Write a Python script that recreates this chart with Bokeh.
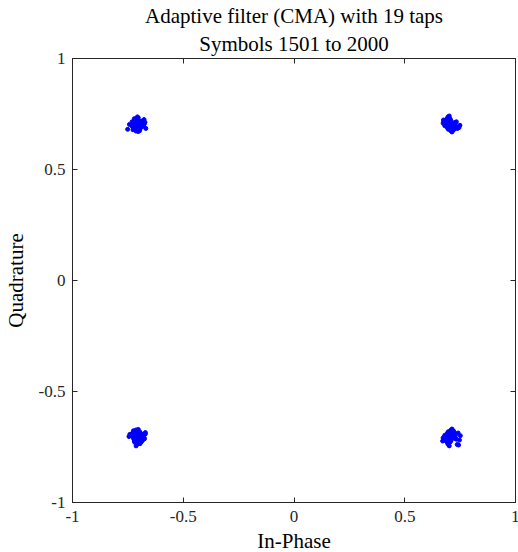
from bokeh.plotting import figure
from bokeh.models import FixedTicker, LinearAxis, Title, Range1d, ColumnDataSource
from bokeh.embed import file_html
from bokeh.resources import INLINE

# Equalized symbols (In-Phase, Quadrature)
tl_i = [-0.707,-0.717,-0.689,-0.699,-0.723,-0.681,-0.711,-0.695,-0.733,-0.673,-0.703,-0.715,-0.687,-0.709,-0.693,
        -0.725,-0.679,-0.701,-0.713,-0.691,-0.719,-0.697,-0.743,-0.669,-0.705,-0.721,-0.685,-0.711,-0.699,-0.729,
        -0.675,-0.707,-0.693,-0.715,-0.683,-0.703,-0.751,-0.713,-0.689,-0.701,-0.727,-0.677,-0.697,-0.709,-0.731]
tl_q = [0.707,0.695,0.717,0.689,0.711,0.701,0.725,0.683,0.699,0.713,0.733,0.679,0.693,0.721,0.705,
        0.687,0.697,0.715,0.673,0.709,0.723,0.691,0.703,0.685,0.699,0.729,0.711,0.681,0.717,0.693,
        0.707,0.737,0.689,0.701,0.719,0.671,0.681,0.713,0.697,0.707,0.679,0.725,0.675,0.731,0.715]

tr_i = [0.707,0.697,0.719,0.689,0.711,0.725,0.681,0.703,0.733,0.693,0.715,0.687,0.709,0.699,0.741,
        0.673,0.721,0.705,0.691,0.727,0.695,0.713,0.749,0.685,0.717,0.701,0.731,0.677,0.707,0.723,
        0.675,0.711,0.697,0.737,0.689,0.719,0.745,0.703,0.693,0.729,0.681,0.715,0.739,0.699,0.709]
tr_q = [0.707,0.717,0.695,0.725,0.689,0.711,0.701,0.683,0.715,0.731,0.673,0.705,0.697,0.721,0.687,
        0.709,0.679,0.727,0.693,0.703,0.737,0.669,0.699,0.715,0.685,0.741,0.691,0.719,0.675,0.707,
        0.723,0.695,0.681,0.685,0.713,0.701,0.689,0.729,0.687,0.711,0.697,0.677,0.691,0.703,0.719]

bl_i = [-0.707,-0.717,-0.691,-0.699,-0.725,-0.681,-0.711,-0.695,-0.735,-0.675,-0.703,-0.715,-0.687,-0.709,-0.693,
        -0.729,-0.679,-0.701,-0.713,-0.689,-0.721,-0.697,-0.745,-0.671,-0.705,-0.719,-0.685,-0.711,-0.699,-0.731,
        -0.677,-0.707,-0.693,-0.717,-0.683,-0.703,-0.741,-0.713,-0.689,-0.671,-0.725,-0.695,-0.707,-0.721,-0.701]
bl_q = [-0.707,-0.695,-0.717,-0.689,-0.711,-0.701,-0.725,-0.683,-0.699,-0.713,-0.733,-0.679,-0.693,-0.721,-0.705,
        -0.687,-0.697,-0.715,-0.673,-0.709,-0.723,-0.691,-0.703,-0.685,-0.699,-0.729,-0.711,-0.681,-0.717,-0.693,
        -0.707,-0.737,-0.689,-0.701,-0.719,-0.671,-0.693,-0.745,-0.727,-0.691,-0.677,-0.735,-0.715,-0.683,-0.703]

br_i = [0.707,0.697,0.719,0.689,0.711,0.725,0.681,0.703,0.733,0.693,0.715,0.687,0.709,0.699,0.741,
        0.673,0.721,0.705,0.691,0.727,0.695,0.713,0.751,0.685,0.717,0.701,0.731,0.677,0.707,0.723,
        0.671,0.711,0.697,0.737,0.689,0.719,0.747,0.703,0.693,0.729,0.681,0.715,0.743,0.699,0.709]
br_q = [-0.707,-0.717,-0.695,-0.725,-0.689,-0.711,-0.701,-0.683,-0.715,-0.731,-0.673,-0.705,-0.697,-0.721,-0.687,
        -0.709,-0.679,-0.727,-0.693,-0.703,-0.737,-0.669,-0.699,-0.715,-0.685,-0.745,-0.691,-0.719,-0.675,-0.707,
        -0.723,-0.695,-0.681,-0.739,-0.713,-0.701,-0.719,-0.729,-0.687,-0.711,-0.697,-0.677,-0.741,-0.703,-0.721]

tick_values = [-1, -0.5, 0, 0.5, 1]
tick_labels = ["-1", "-0.5", "0", "0.5", "1"]

in_phase = tl_i + tr_i + bl_i + br_i
quadrature = tl_q + tr_q + bl_q + br_q
src = ColumnDataSource(data=dict(x=in_phase, y=quadrature))

FONT = "Liberation Serif"
AX = "#262626"

p = figure(frame_width=443, frame_height=444, output_backend="svg", toolbar_location=None,
           x_range=Range1d(-1, 1), y_range=Range1d(-1, 1),
           min_border_left=71, min_border_right=4, min_border_top=58, min_border_bottom=50,
           x_axis_location=None, y_axis_location=None)
p.grid.visible = False
p.outline_line_color = AX
p.background_fill_color = "white"
p.border_fill_color = "white"

p.scatter("x", "y", source=src, size=4, marker="circle", fill_color="#0000ff", line_color="#0000ff")

def mk_axis(label, show_labels):
    ax = LinearAxis(ticker=FixedTicker(ticks=tick_values))
    ax.minor_tick_line_color = None
    ax.major_tick_in = 5
    ax.major_tick_out = 0
    ax.axis_line_color = AX
    ax.major_tick_line_color = AX
    ax.axis_label_text_font = FONT
    ax.axis_label_text_font_style = "normal"
    ax.axis_label_text_font_size = "21px"
    ax.axis_label_text_color = "#000000"
    ax.major_label_text_font = FONT
    ax.major_label_text_font_size = "17px"
    ax.major_label_text_color = "#262626"
    if show_labels:
        ax.axis_label = label
        ax.major_label_overrides = {v: l for v, l in zip(tick_values, tick_labels)}
    else:
        ax.major_label_overrides = {v: "" for v in tick_values}
        ax.major_label_standoff = 0
    return ax

bx = mk_axis("In-Phase", True)
bx.major_label_standoff = 8
bx.axis_label_standoff = 4
ly = mk_axis("Quadrature", True)
ly.major_label_standoff = 7
ly.axis_label_standoff = 8
p.add_layout(bx, "below")
p.add_layout(ly, "left")
p.add_layout(mk_axis(None, False), "above")
p.add_layout(mk_axis(None, False), "right")

p.add_layout(Title(text="Symbols 1501 to 2000", align="center", text_font=FONT,
                   text_font_size="21px", text_font_style="normal", text_color="#000000", standoff=5), "above")
p.add_layout(Title(text="Adaptive filter (CMA) with 19 taps", align="center", text_font=FONT,
                   text_font_size="21px", text_font_style="normal", text_color="#000000", standoff=0), "above")

open("out.html", "w").write(file_html(p, INLINE))
